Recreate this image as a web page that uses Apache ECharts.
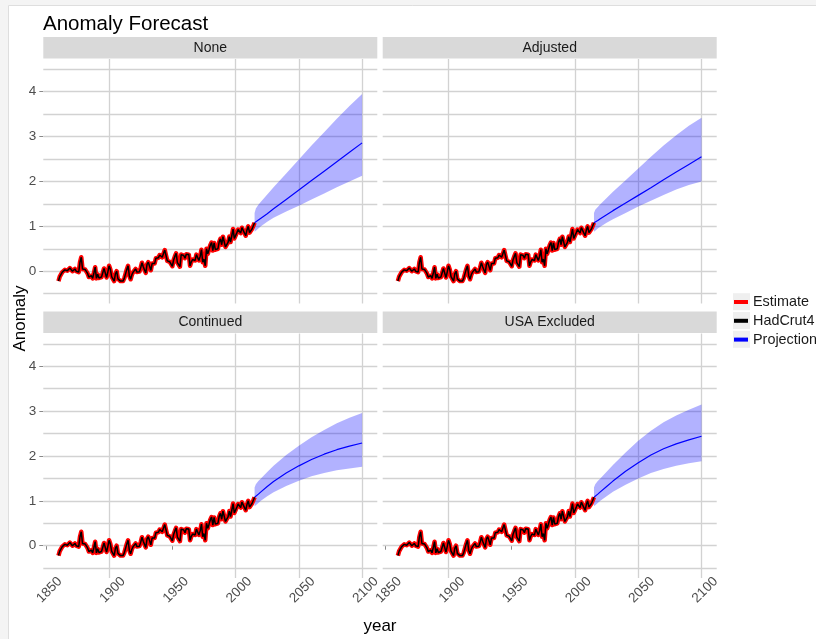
<!DOCTYPE html>
<html><head><meta charset="utf-8">
<script src="https://cdn.jsdelivr.net/npm/echarts@6/dist/echarts.min.js"></script>
<style>html,body{margin:0;padding:0;background:#f4f4f4}#c{width:816px;height:639px}</style>
</head><body><div id="c"></div>
<script>
// ---------- data ----------
const panelNames = ['None', 'Adjusted', 'Continued', 'USA Excluded'];
const histFirstYear = 1860; // annual values 1860..2015
const hadcrut4 = [
  -0.22, -0.12, -0.16, -0.02, -0.06, 0.03, 0.05, 0.01, 0.04, 0.07,
  0.03, 0.00, 0.04, 0.05, 0.00, -0.03, -0.02, 0.20, 0.31, 0.05,
  0.02, 0.04, 0.03, -0.05, -0.13, -0.12, -0.10, -0.16, -0.04, 0.09,
  -0.16, -0.07, -0.15, -0.17, -0.13, -0.10, 0.06, 0.07, -0.14, -0.02,
  0.12, 0.04, -0.12, -0.16, -0.22, -0.06, 0.00, -0.17, -0.20, -0.22,
  -0.20, -0.22, -0.16, -0.14, 0.04, 0.12, -0.10, -0.18, -0.08, -0.02,
  -0.01, 0.05, -0.02, 0.00, -0.01, 0.08, 0.19, 0.10, 0.09, -0.04,
  0.15, 0.20, 0.16, 0.02, 0.17, 0.13, 0.17, 0.29, 0.33, 0.30,
  0.36, 0.34, 0.31, 0.32, 0.47, 0.35, 0.23, 0.23, 0.21, 0.21,
  0.11, 0.25, 0.33, 0.40, 0.19, 0.18, 0.10, 0.37, 0.38, 0.35,
  0.29, 0.38, 0.35, 0.37, 0.12, 0.21, 0.26, 0.30, 0.24, 0.37,
  0.35, 0.24, 0.33, 0.48, 0.20, 0.27, 0.12, 0.50, 0.39, 0.48,
  0.58, 0.64, 0.46, 0.63, 0.48, 0.44, 0.50, 0.65, 0.72, 0.59,
  0.77, 0.73, 0.54, 0.55, 0.64, 0.77, 0.65, 0.79, 0.94, 0.73,
  0.71, 0.86, 0.93, 0.93, 0.85, 0.97, 0.91, 0.91, 0.79, 0.92,
  1.00, 0.86, 0.90, 0.94, 0.98, 1.08
];
const estimate = hadcrut4.slice(); // the estimate coincides with HadCrut4 in all panels

const projYears = [2015, 2016, 2018, 2020, 2025, 2030, 2040, 2050, 2060, 2070, 2080, 2090, 2100];
// projection centre / lower / upper per panel
const projNone      = [1.08, 1.10, 1.14, 1.18, 1.28, 1.39, 1.60, 1.81, 2.02, 2.23, 2.44, 2.65, 2.86];
const projNoneLo    = [0.88, 0.90, 0.95, 1.00, 1.10, 1.19, 1.33, 1.46, 1.60, 1.73, 1.87, 2.00, 2.13];
const projNoneHi    = [1.30, 1.40, 1.48, 1.55, 1.71, 1.87, 2.18, 2.49, 2.80, 3.10, 3.40, 3.68, 3.95];
const projAdj       = [1.08, 1.10, 1.13, 1.17, 1.26, 1.35, 1.52, 1.69, 1.86, 2.04, 2.21, 2.38, 2.55];
const projAdjLo     = [0.88, 0.90, 0.95, 0.99, 1.08, 1.16, 1.30, 1.44, 1.57, 1.70, 1.82, 1.92, 2.00];
const projAdjHi     = [1.30, 1.37, 1.43, 1.49, 1.63, 1.77, 2.03, 2.29, 2.55, 2.80, 3.03, 3.24, 3.42];
const projCont      = [1.08, 1.10, 1.15, 1.20, 1.32, 1.43, 1.62, 1.78, 1.92, 2.04, 2.14, 2.22, 2.29];
const projContLo    = [0.88, 0.90, 0.95, 1.00, 1.10, 1.19, 1.33, 1.45, 1.55, 1.62, 1.68, 1.72, 1.76];
const projContHi    = [1.30, 1.37, 1.44, 1.50, 1.64, 1.78, 2.02, 2.23, 2.42, 2.58, 2.73, 2.85, 2.96];
const projUsa       = [1.08, 1.10, 1.15, 1.20, 1.32, 1.44, 1.66, 1.85, 2.02, 2.16, 2.27, 2.36, 2.44];
const projUsaLo     = [0.88, 0.90, 0.95, 1.00, 1.10, 1.20, 1.36, 1.50, 1.62, 1.71, 1.78, 1.84, 1.88];
const projUsaHi     = [1.30, 1.37, 1.44, 1.50, 1.65, 1.80, 2.08, 2.34, 2.56, 2.75, 2.90, 3.03, 3.15];

const xTickLabels = [1850, 1900, 1950, 2000, 2050, 2100];
const yTickLabels = [0, 1, 2, 3, 4];
const xGridLines = [1900, 2000, 2050, 2100];
const yGridLines = [-0.5, 0, 0.5, 1, 1.5, 2, 2.5, 3, 3.5, 4, 4.5];

// ---------- layout ----------
const FONT = 'Liberation Sans, Arial, Helvetica, sans-serif';
const panels = [
  {left: 43.3, top: 59, center: projNone, lo: projNoneLo, hi: projNoneHi},
  {left: 382.7, top: 59, center: projAdj, lo: projAdjLo, hi: projAdjHi},
  {left: 43.3, top: 333.5, center: projCont, lo: projContLo, hi: projContHi},
  {left: 382.7, top: 333.5, center: projUsa, lo: projUsaLo, hi: projUsaHi}
];
const PW = 334, PH = 244.5;

const histYears = hadcrut4.map((_, i) => histFirstYear + i);
const zip = (xs, ys) => xs.map((x, i) => [x, ys[i]]);

const grids = [], xAxes = [], yAxes = [], series = [], graphics = [];

graphics.push({type: 'rect', z: -10, shape: {x: 8.5, y: 5.5, width: 820, height: 650},
  style: {fill: '#ffffff', stroke: '#dedede', lineWidth: 1}, silent: true});

function renderRibbon(params, api) {
  if (params.dataIndexInside !== 0) return null;
  const n = params.dataInsideLength;
  const upper = [], lower = [];
  for (let i = 0; i < n; i++) {
    upper.push(api.coord([api.value(0, i), api.value(2, i)]));
    lower.push(api.coord([api.value(0, i), api.value(1, i)]));
  }
  return {type: 'polygon', shape: {points: upper.concat(lower.reverse())},
    style: {fill: 'rgba(0,0,255,0.3)'}, silent: true};
}

panels.forEach((p, g) => {
  const isBottom = g >= 2, isLeft = g % 2 === 0;
  grids.push({left: p.left, top: p.top, width: PW, height: PH, containLabel: false});
  xAxes.push({
    type: 'value', gridIndex: g, min: 1848, max: 2112,
    axisLine: {show: false}, splitLine: {show: false},
    axisTick: {show: isBottom, customValues: xTickLabels, length: 4, lineStyle: {color: '#8a8a8a', width: 1}},
    axisLabel: {show: isBottom, customValues: xTickLabels, rotate: 45, align: 'center', verticalAlign: 'middle',
      margin: 15.5, padding: [0, 0, 0, 10], fontSize: 13.5, color: '#4d4d4d', fontFamily: FONT,
      formatter: v => String(v)}
  });
  yAxes.push({
    type: 'value', gridIndex: g, min: -0.72, max: 4.73,
    axisLine: {show: false}, splitLine: {show: false},
    axisTick: {show: isLeft, customValues: yTickLabels, length: 4, lineStyle: {color: '#8a8a8a', width: 1}},
    axisLabel: {show: isLeft, customValues: yTickLabels, margin: 7, fontSize: 13.5, color: '#4d4d4d', fontFamily: FONT,
      formatter: v => String(v)}
  });
  series.push({
    type: 'custom', name: 'ribbon' + g, xAxisIndex: g, yAxisIndex: g,
    data: projYears.map((y, i) => [y, p.lo[i], p.hi[i]]),
    encode: {x: 0, y: [1, 2]}, renderItem: renderRibbon, silent: true, z: 2,
    markLine: {silent: true, symbol: 'none', label: {show: false}, animation: false,
      lineStyle: {color: '#d2d2d2', width: 1.3, type: 'solid'},
      emphasis: {disabled: true}, z: 1,
      data: xGridLines.map(v => ({xAxis: v})).concat(yGridLines.map(v => ({yAxis: v})))}
  });
  series.push({
    type: 'line', name: 'Projection', xAxisIndex: g, yAxisIndex: g,
    data: zip(projYears, p.center), symbol: 'none', smooth: false,
    lineStyle: {color: '#0000ff', width: 1.2}, itemStyle: {color: '#0000ff'}, z: 3
  });
  series.push({
    type: 'line', name: 'Estimate', xAxisIndex: g, yAxisIndex: g,
    data: zip(histYears, estimate), symbol: 'none',
    lineStyle: {color: '#ff0000', width: 4.5, join: 'round'}, itemStyle: {color: '#ff0000'}, z: 4
  });
  series.push({
    type: 'line', name: 'HadCrut4', xAxisIndex: g, yAxisIndex: g,
    data: zip(histYears, hadcrut4), symbol: 'none',
    lineStyle: {color: '#000000', width: 1.5}, itemStyle: {color: '#000000'}, z: 5
  });
  // facet strip
  const sy = isBottom ? 311.5 : 37;
  graphics.push({type: 'rect', shape: {x: p.left, y: sy, width: PW, height: 21.5},
    style: {fill: '#d9d9d9'}, silent: true});
  graphics.push({type: 'text', x: p.left + PW / 2, y: sy + 11, silent: true,
    style: {text: panelNames[g], fill: '#1a1a1a', fontSize: 14, fontFamily: FONT, align: 'center', verticalAlign: 'middle'}});
});

// legend key backgrounds
[293.2, 312, 330.8].forEach(y => graphics.push({type: 'rect', shape: {x: 733, y: y, width: 17, height: 17},
  style: {fill: '#efefef'}, silent: true}));
// axis titles
graphics.push({type: 'text', x: 20, y: 318.5, rotation: Math.PI / 2, silent: true,
  style: {text: 'Anomaly', fill: '#000', fontSize: 17, fontFamily: FONT, align: 'center', verticalAlign: 'middle'}});
graphics.push({type: 'text', x: 380, y: 626, silent: true,
  style: {text: 'year', fill: '#000', fontSize: 17, fontFamily: FONT, align: 'center', verticalAlign: 'middle'}});

const chart = echarts.init(document.getElementById('c'), null, {renderer: 'canvas'});
chart.setOption({
  animation: false,
  backgroundColor: '#f4f4f4',
  title: {text: 'Anomaly Forecast', left: 38, top: 9,
    textStyle: {fontSize: 20.5, fontWeight: 'normal', color: '#000', fontFamily: FONT}},
  legend: {data: ['Estimate', 'HadCrut4', 'Projection'], orient: 'vertical', left: 734, top: 294, padding: 0,
    icon: 'rect', itemWidth: 14, itemHeight: 4, itemGap: 2.8, selectedMode: false,
    textStyle: {fontSize: 14.4, color: '#1a1a1a', fontFamily: FONT, lineHeight: 16}},
  grid: grids, xAxis: xAxes, yAxis: yAxes, series: series,
  graphic: {elements: graphics}
});
</script></body></html>
